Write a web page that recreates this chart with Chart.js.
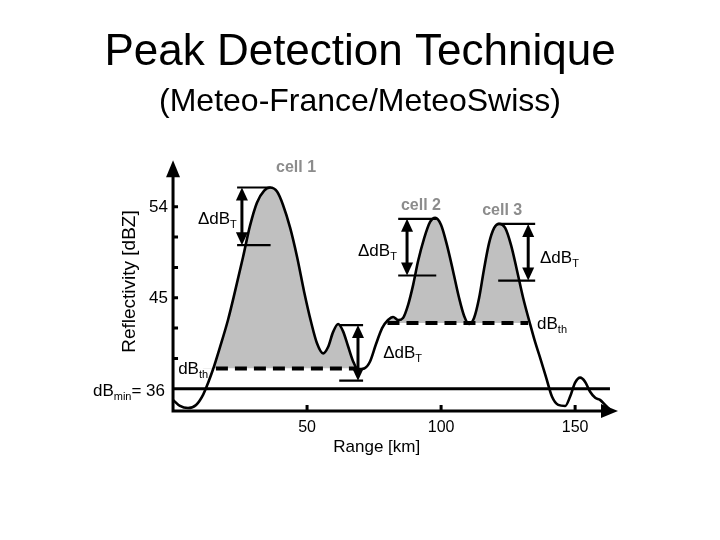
<!DOCTYPE html>
<html>
<head>
<meta charset="utf-8">
<title>Peak Detection Technique</title>
<script src="https://cdn.jsdelivr.net/npm/chart.js@4.4.0/dist/chart.umd.min.js"></script>
<style>
    html, body { margin: 0; padding: 0; background: #fff; }
    #wrap { width: 720px; height: 540px; }
</style>
</head>
<body>
<div id="wrap"><canvas id="peakChart" width="720" height="540"></canvas></div>
<script>
// Reflectivity profile along the radar beam
const rangeKm = [0, 2.6, 5.6, 8.6, 11.2, 13.1, 14.9, 17.5, 20.5, 23.1,
    26.1, 28.7, 31.3, 34.0, 36.2, 38.8, 41.0, 43.7, 46.3, 48.9,
    51.5, 53.7, 56.0, 57.8, 59.7, 61.6, 63.4, 65.3, 67.2, 69.0,
    71.3, 73.5, 75.7, 78.0, 80.2, 82.1, 84.0, 85.8, 87.7, 89.6,
    91.4, 93.7, 95.9, 97.8, 100.0, 102.2, 104.5, 106.7, 108.6, 110.4,
    112.3, 114.2, 116.0, 117.9, 119.8, 121.6, 123.9, 126.1, 128.4, 130.6,
    133.2, 135.1, 136.9, 139.2, 141.4, 143.7, 146.3, 148.1, 150.0, 151.9,
    153.7, 155.6, 157.5, 159.3, 161.2, 163.1];
const reflectivity = [34.9, 34.3, 34.1, 34.4, 35.4, 36.6, 37.9, 40.1, 42.8, 45.6,
    49.0, 52.1, 54.4, 55.6, 55.9, 55.5, 54.2, 51.9, 49.0, 45.6,
    42.6, 40.5, 39.5, 40.1, 41.6, 42.4, 41.7, 40.2, 38.7, 37.9,
    38.0, 38.7, 40.4, 42.0, 42.8, 43.1, 42.8, 43.0, 44.3, 46.3,
    48.6, 50.9, 52.5, 52.9, 52.2, 50.2, 47.6, 45.0, 43.2, 42.4,
    43.0, 45.0, 47.8, 50.4, 51.9, 52.3, 51.9, 50.2, 47.6, 45.0,
    42.4, 40.6, 39.1, 37.1, 35.2, 34.4, 34.3, 35.2, 36.6, 37.1,
    36.7, 35.7, 35.1, 34.9, 34.4, 33.9];

// thresholds
const dBmin = 36;
const dBth = [38, 42.5];
const dBthFrom = [16, 80];
const dBthTo = [69, 132.5];
const fillFrom = [11, 78];
const fillTo = [69, 133.5];

// ΔdB_T markers: top / bottom levels, arrow range and line extents
const deltaTop = [55.9, 52.8, 52.3, 42.3];
const deltaBottom = [50.2, 47.2, 46.7, 36.8];
const deltaArrowKm = [25.7, 87.3, 132.5, 69.0];
const deltaLineFrom = [23.9, 84.0, 121.3, 62.0];
const deltaLineTo = [36.4, 98.2, 135.1, 70.9];

// axis ticks
const xTicks = [50, 100, 150];
const xTickLabels = ['50', '100', '150'];
const yTicks = [39, 42, 45, 48, 51, 54];
const yTickLabels = ['', '', '45', '', '', '54'];

const FONT = "'Liberation Sans', Arial, Helvetica, sans-serif";
const FILL_GREY = '#c0c0c0';

const curvePts = rangeKm.map((k, i) => ({ x: k, y: reflectivity[i] }));

function segment(x1, x2, v) {
    return [{ x: x1, y: v }, { x: x2, y: v }];
}

const datasets = [];

// main profile (drawn on top)
datasets.push({
    label: 'Reflectivity',
    data: curvePts,
    borderColor: '#000',
    borderWidth: 2.6,
    pointRadius: 0,
    cubicInterpolationMode: 'monotone',
    fill: false
});

// ΔdB_T horizontal bars
deltaTop.forEach((top, i) => {
    datasets.push({ data: segment(deltaLineFrom[i], deltaLineTo[i], top), borderColor: '#000', borderWidth: 2.2, pointRadius: 0, fill: false });
    datasets.push({ data: segment(deltaLineFrom[i], deltaLineTo[i], deltaBottom[i]), borderColor: '#000', borderWidth: 2.2, pointRadius: 0, fill: false });
});

// dB_th dashed lines
dBth.forEach((v, i) => {
    datasets.push({
        data: segment(dBthFrom[i], dBthTo[i], v),
        borderColor: '#000',
        borderWidth: 4,
        borderDash: [12, 7],
        borderCapStyle: 'butt',
        pointRadius: 0,
        fill: false
    });
});

// dB_min line
datasets.push({
    data: segment(0, 163, dBmin),
    borderColor: '#000',
    borderWidth: 3,
    pointRadius: 0,
    fill: false
});

// grey cell areas above dB_th (drawn first)
dBth.forEach((v, i) => {
    datasets.push({
        data: curvePts.filter(p => p.x >= fillFrom[i] && p.x <= fillTo[i]),
        borderWidth: 0,
        borderColor: 'rgba(0,0,0,0)',
        pointRadius: 0,
        cubicInterpolationMode: 'monotone',
        fill: { target: { value: v }, above: FILL_GREY, below: 'rgba(0,0,0,0)' }
    });
});

function arrowHead(ctx, tipX, tipY, dx, dy, len, w) {
    const bx = tipX - dx * len, by = tipY - dy * len;
    ctx.beginPath();
    ctx.moveTo(tipX, tipY);
    ctx.lineTo(bx - dy * w / 2, by + dx * w / 2);
    ctx.lineTo(bx + dy * w / 2, by - dx * w / 2);
    ctx.closePath();
    ctx.fill();
}

// text made of runs so subscripts can be drawn (y = baseline)
function drawRuns(ctx, runs, x, y, align) {
    const widths = runs.map(r => {
        ctx.font = (r.bold ? 'bold ' : '') + r.size + 'px ' + FONT;
        return ctx.measureText(r.text).width;
    });
    const total = widths.reduce((a, b) => a + b, 0);
    let cx = align === 'right' ? x - total : (align === 'center' ? x - total / 2 : x);
    ctx.textAlign = 'left';
    ctx.textBaseline = 'alphabetic';
    runs.forEach((r, i) => {
        ctx.font = (r.bold ? 'bold ' : '') + r.size + 'px ' + FONT;
        ctx.fillText(r.text, cx, y + (r.dy || 0));
        cx += widths[i];
    });
}

const deltaLabel = [{ text: 'ΔdB', size: 17 }, { text: 'T', size: 11, dy: 4 }];
const thLabel = [{ text: 'dB', size: 17 }, { text: 'th', size: 11, dy: 4 }];

// label anchors in data units (km, dBZ baseline)
const textLabels = [
    { runs: [{ text: 'cell 1', size: 16, bold: true }], km: 45.9, db: 57.4, align: 'center', color: '#8c8c8c' },
    { runs: [{ text: 'cell 2', size: 16, bold: true }], km: 92.5, db: 53.7, align: 'center', color: '#8c8c8c' },
    { runs: [{ text: 'cell 3', size: 16, bold: true }], km: 122.8, db: 53.2, align: 'center', color: '#8c8c8c' },
    { runs: deltaLabel, km: 9.3, db: 52.3, align: 'left' },
    { runs: deltaLabel, km: 69.0, db: 49.15, align: 'left' },
    { runs: deltaLabel, km: 136.9, db: 48.45, align: 'left' },
    { runs: deltaLabel, km: 78.4, db: 39.05, align: 'left' },
    { runs: thLabel, km: 1.9, db: 37.5, align: 'left' },
    { runs: thLabel, km: 135.8, db: 41.95, align: 'left' }
];

const peakAnnotations = {
    id: 'peakAnnotations',
    afterDatasetsDraw(chart) {
        const { ctx } = chart;
        const xs = chart.scales.x, ys = chart.scales.y;
        const ox = xs.getPixelForValue(0);
        const oy = ys.getPixelForValue(ys.min);
        const topY = ys.getPixelForValue(ys.max);
        const rightX = xs.getPixelForValue(xs.max);

        ctx.save();
        ctx.fillStyle = '#000';
        ctx.strokeStyle = '#000';

        // axes with arrow heads
        ctx.lineWidth = 3;
        ctx.beginPath();
        ctx.moveTo(ox, oy);
        ctx.lineTo(ox, topY + 10);
        ctx.moveTo(ox - 1.5, oy);
        ctx.lineTo(rightX - 10, oy);
        ctx.stroke();
        arrowHead(ctx, ox, topY, 0, -1, 17, 14);
        arrowHead(ctx, rightX, oy, 1, 0, 17, 14);

        // tick marks
        ctx.lineWidth = 3;
        ctx.beginPath();
        yTicks.forEach(v => {
            const py = ys.getPixelForValue(v);
            ctx.moveTo(ox, py);
            ctx.lineTo(ox + 5, py);
        });
        xTicks.forEach(v => {
            const px = xs.getPixelForValue(v);
            ctx.moveTo(px, oy);
            ctx.lineTo(px, oy - 6);
        });
        ctx.stroke();

        // tick labels
        ctx.font = '17px ' + FONT;
        ctx.textAlign = 'right';
        ctx.textBaseline = 'middle';
        yTicks.forEach((v, i) => {
            if (yTickLabels[i]) ctx.fillText(yTickLabels[i], ox - 5, ys.getPixelForValue(v) + 1);
        });
        ctx.font = '16px ' + FONT;
        ctx.textAlign = 'center';
        xTicks.forEach((v, i) => {
            ctx.fillText(xTickLabels[i], xs.getPixelForValue(v), oy + 17);
        });

        // axis titles
        ctx.font = '17px ' + FONT;
        ctx.fillText('Range [km]', xs.getPixelForValue(76), oy + 36);
        ctx.save();
        ctx.translate(ox - 43, ys.getPixelForValue(46.6));
        ctx.rotate(-Math.PI / 2);
        ctx.font = '19px ' + FONT;
        ctx.fillText('Reflectivity [dBZ]', 0, 0);
        ctx.restore();

        // dB_min label
        drawRuns(ctx, [
            { text: 'dB', size: 17 },
            { text: 'min', size: 11, dy: 4 },
            { text: '= ' + dBmin, size: 17 }
        ], ox - 8, ys.getPixelForValue(dBmin) + 7, 'right');

        // ΔdB_T double arrows
        ctx.lineWidth = 3;
        deltaArrowKm.forEach((k, i) => {
            const px = xs.getPixelForValue(k);
            const t = ys.getPixelForValue(deltaTop[i]);
            const b = ys.getPixelForValue(deltaBottom[i]);
            ctx.beginPath();
            ctx.moveTo(px, t + 10);
            ctx.lineTo(px, b - 10);
            ctx.stroke();
            arrowHead(ctx, px, t, 0, -1, 13, 12);
            arrowHead(ctx, px, b, 0, 1, 13, 12);
        });

        // text labels
        textLabels.forEach(l => {
            ctx.fillStyle = l.color || '#000';
            drawRuns(ctx, l.runs, xs.getPixelForValue(l.km), ys.getPixelForValue(l.db), l.align);
        });

        ctx.restore();
    }
};

Chart.defaults.font.family = FONT;
Chart.defaults.color = '#000';

const chart = new Chart(document.getElementById('peakChart').getContext('2d'), {
    type: 'line',
    data: { datasets: datasets },
    options: {
        responsive: false,
        animation: false,
        devicePixelRatio: 1,
        layout: { padding: { left: 102, right: 102, top: 0, bottom: 129 } },
        scales: {
            x: { type: 'linear', min: -26.5, max: 166, display: false },
            y: { type: 'linear', min: 33.8, max: 58.6, display: false }
        },
        plugins: {
            legend: { display: false },
            tooltip: { enabled: false },
            title: {
                display: true,
                text: 'Peak Detection Technique',
                color: '#000',
                font: { size: 44, weight: 'normal' },
                padding: { top: 26, bottom: 0 }
            },
            subtitle: {
                display: true,
                text: '(Meteo-France/MeteoSwiss)',
                color: '#000',
                font: { size: 32, weight: 'normal' },
                padding: { top: 4, bottom: 39 }
            }
        }
    },
    plugins: [peakAnnotations]
});
</script>
</body>
</html>
